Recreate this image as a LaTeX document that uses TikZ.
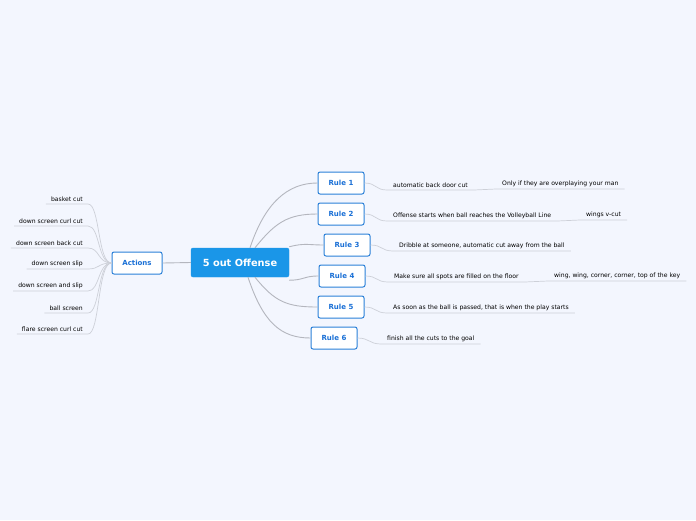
\documentclass[tikz,border=0pt]{standalone}
\usepackage{fontspec}
\setmainfont{DejaVu Sans}
\usetikzlibrary{positioning,calc}

\definecolor{bgblue}{HTML}{F3F6FE}
\definecolor{mainblue}{HTML}{1A96E8}
\definecolor{edgeblue}{HTML}{2A80D8}
\definecolor{textblue}{HTML}{1A70D6}
\definecolor{branchgray}{HTML}{B4B6BE}
\definecolor{leafgray}{HTML}{CDD0D8}

\tikzset{
  topic/.style={draw=mainblue, fill=mainblue, rounded corners=2pt, text=white,
    font=\fontsize{9.8}{11}\selectfont\bfseries, minimum width=98pt, minimum height=29pt, inner sep=0pt},
  rulebox/.style={draw=edgeblue, fill=white, line width=1pt, rounded corners=2pt, text=textblue,
    font=\fontsize{7}{8}\selectfont\bfseries, minimum width=46pt, minimum height=22pt, inner sep=0pt},
  leafL/.style={anchor=south east, font=\fontsize{6.1}{7}\selectfont, inner xsep=5pt, inner ysep=2pt},
  leafR/.style={anchor=south west, font=\fontsize{6.1}{7}\selectfont, inner xsep=6pt, inner ysep=2pt},
  branch/.style={draw=branchgray, line width=0.9pt},
  twig/.style={draw=leafgray, line width=0.7pt}
}

\begin{document}
\begin{tikzpicture}[x=1pt, y=-1pt]
\fill[bgblue] (0,0) rectangle (696,520);
\useasboundingbox (0,0) rectangle (696,520);

% central topic and main branches
\node[topic] (offense) at (240,262.5) {5 out Offense};
\node[rulebox, minimum width=50pt] (actions) at (137,263) {Actions};

\node[rulebox] (rule1) at (341,183) {Rule 1};
\node[rulebox] (rule2) at (341,214) {Rule 2};
\node[rulebox] (rule3) at (347,245) {Rule 3};
\node[rulebox] (rule4) at (342,276) {Rule 4};
\node[rulebox] (rule5) at (341,307) {Rule 5};
\node[rulebox] (rule6) at (334,338) {Rule 6};

\draw[branch] (offense.west) -- (actions.east);
\draw[branch] ([xshift=10pt]offense.north) .. controls +(15,-45) and +(-30,0) .. (rule1.west);
\draw[branch] ([xshift=15pt]offense.north) .. controls +(20,-25) and +(-30,0) .. (rule2.west);
\draw[branch] ([yshift=1pt]offense.north east) .. controls +(15,-4) and +(-15,0) .. (rule3.west);
\draw[branch] ([yshift=-3pt]offense.south east) .. controls +(15,0) and +(-15,0) .. (rule4.west);
\draw[branch] ([xshift=15pt]offense.south) .. controls +(20,25) and +(-30,0) .. (rule5.west);
\draw[branch] ([xshift=8pt]offense.south) .. controls +(15,45) and +(-30,0) .. (rule6.west);

% actions
\node[leafL] (a1) at (88,204) {basket cut};
\node[leafL] (a2) at (88,226) {down screen curl cut};
\node[leafL] (a3) at (88,248) {down screen back cut};
\node[leafL] (a4) at (88,269) {down screen slip};
\node[leafL] (a5) at (88,291) {down screen and slip};
\node[leafL] (a6) at (88,313) {ball screen};
\node[leafL] (a7) at (88,334) {flare screen curl cut};
\foreach \n in {a1,a2,a3,a4,a5,a6,a7}
  \draw[twig] (\n.south west) -- (\n.south east)
    .. controls +(12,0) and +(-14,0) .. (actions.west);

% rules
\node[leafR] (r1) at (387,190) {automatic back door cut};
\node[leafR] (r1a) at (496,189) {Only if they are overplaying your man};
\node[leafR] (r2) at (387,221) {Offense starts when ball reaches the Volleyball Line};
\node[leafR] (r2a) at (580,220) {wings v-cut};
\node[leafR] (r3) at (393,251) {Dribble at someone, automatic cut away from the ball};
\node[leafR] (r4) at (388,282) {Make sure all spots are filled on the floor};
\node[leafR] (r4a) at (548,281) {wing, wing, corner, corner, top of the key};
\node[leafR] (r5) at (387,313) {As soon as the ball is passed, that is when the play starts};
\node[leafR] (r6) at (381,344) {finish all the cuts to the goal};

\draw[twig] (rule1.east) .. controls +(12,0) and +(-12,0) .. (r1.south west) -- (r1.south east) -- (r1a.south west) -- (r1a.south east);
\draw[twig] (rule2.east) .. controls +(12,0) and +(-12,0) .. (r2.south west) -- (r2.south east) -- (r2a.south west) -- (r2a.south east);
\draw[twig] (rule3.east) .. controls +(12,0) and +(-12,0) .. (r3.south west) -- (r3.south east);
\draw[twig] (rule4.east) .. controls +(12,0) and +(-12,0) .. (r4.south west) -- (r4.south east) -- (r4a.south west) -- (r4a.south east);
\draw[twig] (rule5.east) .. controls +(12,0) and +(-12,0) .. (r5.south west) -- (r5.south east);
\draw[twig] (rule6.east) .. controls +(12,0) and +(-12,0) .. (r6.south west) -- (r6.south east);
\end{tikzpicture}
\end{document}
